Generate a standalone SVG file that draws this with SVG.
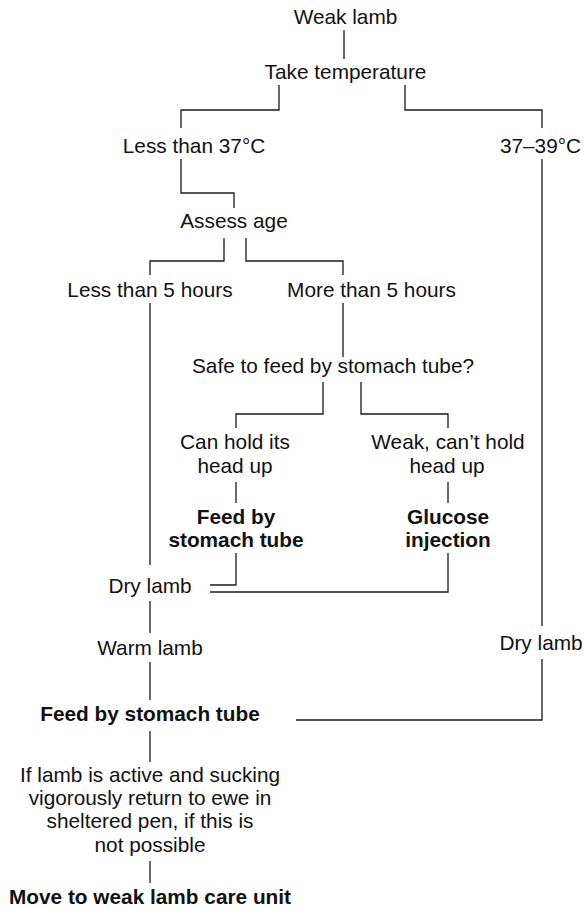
<svg xmlns="http://www.w3.org/2000/svg" width="585" height="909" viewBox="0 0 585 909">
<style>
text{font-family:"Liberation Sans",Arial,Helvetica,sans-serif;font-size:20.8px;fill:#111;text-anchor:middle}
.b{font-weight:bold}
.c{fill:none;stroke:#1a1a1a;stroke-width:1.3}
</style>
<rect width="585" height="909" fill="#fff"/>
<g id="connectors" class="c">
<path d="M344,30V59"/>
<path d="M279,85V110H181V128"/>
<path d="M405,85V110H542V128"/>
<path d="M181,159V193H234V208"/>
<path d="M224,238V261H150V275"/>
<path d="M246,238V261H343V275"/>
<path d="M150,303V565"/>
<path d="M343,303V357"/>
<path d="M323,382V414H236V428"/>
<path d="M361,382V414H448V428"/>
<path d="M236,482V503"/>
<path d="M448,482V503"/>
<path d="M236,553V585H210"/>
<path d="M448,553V592H210"/>
<path d="M150,601V633"/>
<path d="M150,662V700"/>
<path d="M542,159V626"/>
<path d="M542,659V720H296"/>
<path d="M150,731V762"/>
<path d="M150,861V883"/>
</g>
<g id="n-weak"><text x="345.5" y="24">Weak lamb</text></g>
<g id="n-temp"><text x="345.5" y="79">Take temperature</text></g>
<g id="n-less37"><text x="194" y="153">Less than 37°C</text></g>
<g id="n-3739"><text x="540.5" y="153">37–39°C</text></g>
<g id="n-age"><text x="234" y="228">Assess age</text></g>
<g id="n-less5"><text x="150" y="297">Less than 5 hours</text></g>
<g id="n-more5"><text x="371.5" y="297">More than 5 hours</text></g>
<g id="n-safe"><text x="333" y="373">Safe to feed by stomach tube?</text></g>
<g id="n-canhold"><text x="235" y="449">Can hold its</text><text x="235" y="473">head up</text></g>
<g id="n-cant"><text x="448" y="449">Weak, can’t hold</text><text x="447" y="473">head up</text></g>
<g id="n-feed1"><text class="b" x="236" y="524">Feed by</text><text class="b" x="236" y="547">stomach tube</text></g>
<g id="n-glucose"><text class="b" x="448" y="524">Glucose</text><text class="b" x="448" y="547">injection</text></g>
<g id="n-dry1"><text x="150" y="593">Dry lamb</text></g>
<g id="n-warm"><text x="150" y="655">Warm lamb</text></g>
<g id="n-dry2"><text x="541" y="650">Dry lamb</text></g>
<g id="n-feed2"><text class="b" x="150" y="721">Feed by stomach tube</text></g>
<g id="n-ifactive"><text x="150" y="782">If lamb is active and sucking</text><text x="150" y="805">vigorously return to ewe in</text><text x="150" y="828">sheltered pen, if this is</text><text x="150" y="852">not possible</text></g>
<g id="n-move"><text class="b" x="150" y="904">Move to weak lamb care unit</text></g>
</svg>
